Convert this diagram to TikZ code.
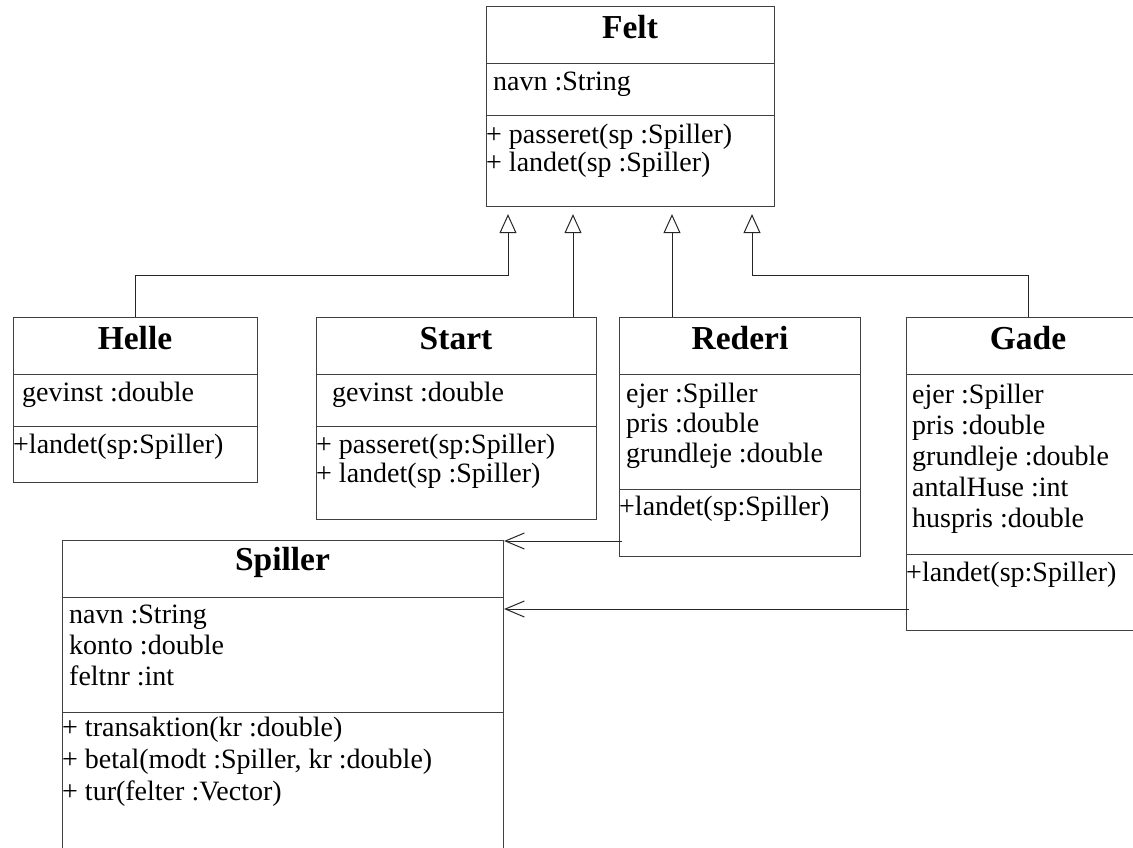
\documentclass[tikz,border=0pt]{standalone}
\usepackage{fontspec}
\setmainfont{Liberation Serif}
\usetikzlibrary{arrows.meta,calc}
\begin{document}
\begin{tikzpicture}[x=1pt,y=-1pt,
  classbox/.style={draw=black!75, line width=1.1pt, rectangle, inner sep=0pt, anchor=north west},
  title/.style={font=\fontsize{33.5}{36}\selectfont\bfseries, inner sep=0pt, anchor=base},
  member/.style={font=\fontsize{28}{30}\selectfont, inner sep=0pt, anchor=mid west, yshift=-6pt},
  divider/.style={draw=black!75, line width=1pt},
  gen/.style={draw=black!85, line width=1pt, -{Triangle[open, length=19pt, width=17pt]}},
  assoc/.style={draw=black!85, line width=1pt, -{Straight Barb[length=19pt, width=16pt]}},
]
\useasboundingbox (0,0) rectangle (1133,848);
\fill[white] (0,0) rectangle (1133,848);
\clip (0,0) rectangle (1133,848);

% ---------- Felt ----------
\node[classbox, minimum width=288pt, minimum height=200pt] (felt) at (486,6) {};
\draw[divider] ($(felt.north west)+(0,58)$) -- ($(felt.north east)+(0,58)$);
\draw[divider] ($(felt.north west)+(0,110)$) -- ($(felt.north east)+(0,110)$);
\node[title] (felt-t) at (630,39) {Felt};
\node[member] (felt-a1) at (493,82) {navn :String};
\node[member] (felt-m1) at (486,135) {+ passeret(sp :Spiller)};
\node[member] (felt-m2) at (486,163) {+ landet(sp :Spiller)};

% ---------- Helle ----------
\node[classbox, minimum width=244pt, minimum height=165pt] (helle) at (13,317) {};
\draw[divider] ($(helle.north west)+(0,57)$) -- ($(helle.north east)+(0,57)$);
\draw[divider] ($(helle.north west)+(0,109)$) -- ($(helle.north east)+(0,109)$);
\node[title] (helle-t) at (135,349) {Helle};
\node[member] (helle-a1) at (22,393) {gevinst :double};
\node[member] (helle-m1) at (13,445) {+landet(sp:Spiller)};

% ---------- Start ----------
\node[classbox, minimum width=280pt, minimum height=202pt] (start) at (316,317) {};
\draw[divider] ($(start.north west)+(0,57)$) -- ($(start.north east)+(0,57)$);
\draw[divider] ($(start.north west)+(0,109)$) -- ($(start.north east)+(0,109)$);
\node[title] (start-t) at (456,349) {Start};
\node[member] (start-a1) at (332,393) {gevinst :double};
\node[member] (start-m1) at (316,445) {+ passeret(sp:Spiller)};
\node[member] (start-m2) at (316,474) {+ landet(sp :Spiller)};

% ---------- Rederi ----------
\node[classbox, minimum width=241pt, minimum height=239pt] (rederi) at (619,317) {};
\draw[divider] ($(rederi.north west)+(0,57)$) -- ($(rederi.north east)+(0,57)$);
\draw[divider] ($(rederi.north west)+(0,172)$) -- ($(rederi.north east)+(0,172)$);
\node[title] (rederi-t) at (740,349) {Rederi};
\node[member] (rederi-a1) at (626,394) {ejer :Spiller};
\node[member] (rederi-a2) at (626,424) {pris :double};
\node[member] (rederi-a3) at (626,454) {grundleje :double};
\node[member] (rederi-m1) at (619,507) {+landet(sp:Spiller)};

% ---------- Gade ----------
\node[classbox, minimum width=244pt, minimum height=313pt] (gade) at (906,317) {};
\draw[divider] ($(gade.north west)+(0,57)$) -- ($(gade.north east)+(0,57)$);
\draw[divider] ($(gade.north west)+(0,237)$) -- ($(gade.north east)+(0,237)$);
\node[title] (gade-t) at (1028,349) {Gade};
\node[member] (gade-a1) at (912,395) {ejer :Spiller};
\node[member] (gade-a2) at (912,426) {pris :double};
\node[member] (gade-a3) at (912,457) {grundleje :double};
\node[member] (gade-a4) at (912,488) {antalHuse :int};
\node[member] (gade-a5) at (912,519) {huspris :double};
\node[member] (gade-m1) at (906,573) {+landet(sp:Spiller)};

% ---------- Spiller ----------
\node[classbox, minimum width=441pt, minimum height=330pt] (spiller) at (62,540) {};
\draw[divider] ($(spiller.north west)+(0,57)$) -- ($(spiller.north east)+(0,57)$);
\draw[divider] ($(spiller.north west)+(0,172)$) -- ($(spiller.north east)+(0,172)$);
\node[title] (spiller-t) at (282.5,570) {Spiller};
\node[member] (spiller-a1) at (69,615) {navn :String};
\node[member] (spiller-a2) at (69,646) {konto :double};
\node[member] (spiller-a3) at (69,677) {feltnr :int};
\node[member] (spiller-m1) at (62,728) {+ transaktion(kr :double)};
\node[member] (spiller-m2) at (62,760) {+ betal(modt :Spiller, kr :double)};
\node[member] (spiller-m3) at (62,792) {+ tur(felter :Vector)};

% ---------- inheritance ----------
\coordinate (felt-in1) at ($(felt.south west)+(22,7)$);
\coordinate (felt-in2) at ($(felt.south west)+(87,7)$);
\coordinate (felt-in3) at ($(felt.south west)+(186,7)$);
\coordinate (felt-in4) at ($(felt.south west)+(266,7)$);
\draw[gen] (helle.north) -- ++(0,-42) -| (felt-in1);
\draw[gen] (start.north -| felt-in2) -- (felt-in2);
\draw[gen] (rederi.north -| felt-in3) -- (felt-in3);
\draw[gen] (gade.north) -- ++(0,-42) -| (felt-in4);

% ---------- associations ----------
\coordinate (rederi-out) at ($(rederi.north west)+(3,224)$);
\coordinate (gade-out) at ($(gade.north west)+(3,292)$);
\draw[assoc] (rederi-out) -- (spiller.east |- rederi-out);
\draw[assoc] (gade-out) -- (spiller.east |- gade-out);
\end{tikzpicture}
\end{document}
